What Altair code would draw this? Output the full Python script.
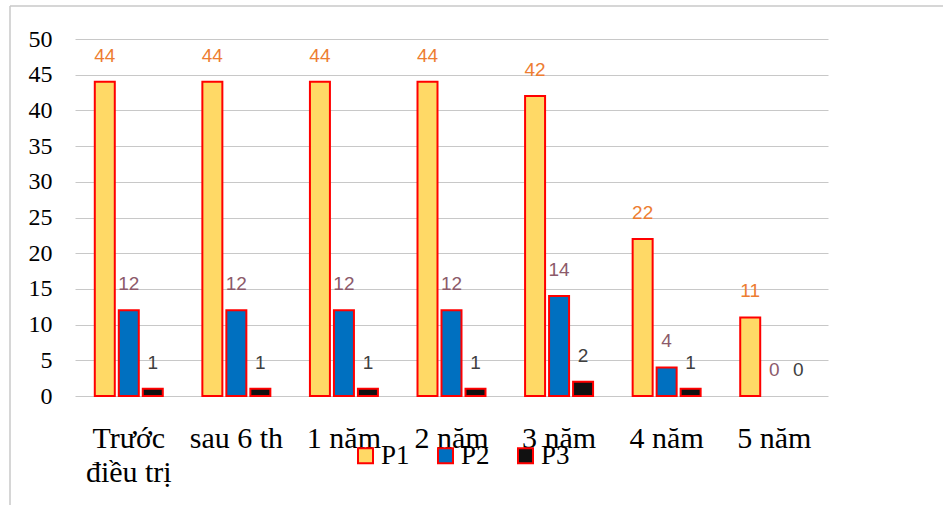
import altair as alt
import pandas as pd

# Number of patients per stage, by group
categories = ["Trước điều trị", "sau 6 th", "1 năm", "2 năm", "3 năm", "4 năm", "5 năm"]
series = ["P1", "P2", "P3"]
p1 = [44, 44, 44, 44, 42, 22, 11]
p2 = [12, 12, 12, 12, 14, 4, 0]
p3 = [1, 1, 1, 1, 2, 1, 0]

fill_colors = ["#FFD966", "#0070C0", "#111111"]
label_colors = ["#ED7D31", "#8C5A6A", "#404040"]

rows = []
for s, vals, lc in zip(series, [p1, p2, p3], label_colors):
    for c, v in zip(categories, vals):
        rows.append({"cat": c, "series": s, "value": v, "lab": lc})
df = pd.DataFrame(rows)

x_enc = alt.X(
    "cat:N",
    sort=categories,
    scale=alt.Scale(paddingInner=0.368, paddingOuter=0.184),
    axis=alt.Axis(
        title=None,
        labelFont="Liberation Serif",
        labelFontSize=30,
        labelColor="black",
        labelAngle=0,
        ticks=False,
        tickSize=0,
        domain=False,
        labelPadding=27,
        labelLineHeight=34,
        labelOverlap=False,
        labelExpr="datum.value == 'Trước điều trị' ? ['Trước', 'điều trị'] : datum.value",
    ),
)
xoff = alt.XOffset("series:N", sort=series,
                   scale=alt.Scale(paddingInner=0.1667, paddingOuter=0))
y_enc = alt.Y(
    "value:Q",
    scale=alt.Scale(domain=[0, 50]),
    axis=alt.Axis(
        title=None,
        values=list(range(0, 51, 5)),
        labelFont="Liberation Serif",
        labelFontSize=24,
        labelColor="black",
        labelOverlap=False,
        ticks=False,
        tickSize=0,
        domain=False,
        labelPadding=23,
        gridColor="#C8C8C8",
        gridWidth=1,
    ),
)

base = alt.Chart(df)

bars = base.transform_filter("datum.value > 0").mark_bar(
    stroke="#FF0000", strokeWidth=2
).encode(
    x=x_enc,
    xOffset=xoff,
    y=y_enc,
    fill=alt.Fill(
        "series:N",
        sort=series,
        scale=alt.Scale(domain=series, range=fill_colors),
        legend=alt.Legend(
            title=None,
            orient="none",
            legendX=277,
            legendY=403,
            direction="horizontal",
            symbolType="square",
            symbolSize=225,
            symbolStrokeColor="#FF0000",
            symbolStrokeWidth=2,
            labelFont="Liberation Serif",
            labelFontSize=27,
            labelColor="black",
            labelOffset=2,
            columnPadding=22,
        ),
    ),
)

labels = base.mark_text(
    font="Liberation Sans", fontSize=19, baseline="middle", dy=-26
).encode(
    x=x_enc,
    xOffset=xoff,
    y=y_enc,
    text=alt.Text("value:Q"),
    color=alt.Color("lab:N", scale=None),
)

# thin grey frame along the top and left edges
frame_df = pd.DataFrame({"k": [0]})
top_edge = alt.Chart(frame_df).mark_rule(color="#C8C8C8", strokeWidth=1.5).encode(
    x=alt.value(-65), x2=alt.value(880), y=alt.value(-33), y2=alt.value(-33)
)
left_edge = alt.Chart(frame_df).mark_rule(color="#C8C8C8", strokeWidth=1.5).encode(
    x=alt.value(-65), x2=alt.value(-65), y=alt.value(-33), y2=alt.value(480)
)

chart = alt.layer(bars, labels, top_edge, left_edge).properties(
    width=753,
    height=357,
    autosize="none",
    padding={"left": 75, "top": 39, "right": 115, "bottom": 109},
    background="white",
).configure_view(
    stroke=None
).configure_axisY(
    labelFont="Liberation Serif", labelFontSize=24, labelColor="black"
).configure_axisX(
    labelFont="Liberation Serif", labelFontSize=30, labelColor="black"
)

chart.save("out.html", embed_options={"renderer": "svg", "actions": False})
